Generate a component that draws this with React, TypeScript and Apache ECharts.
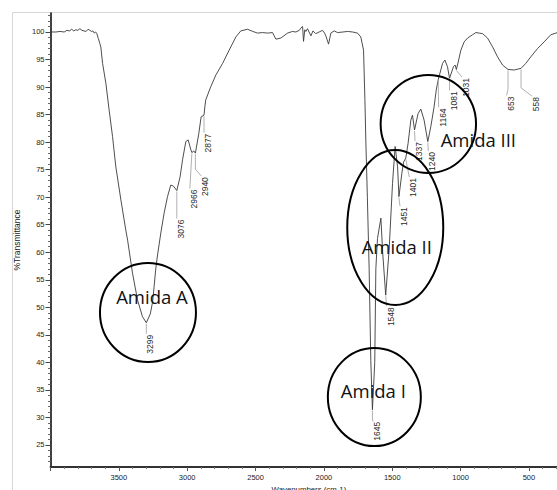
import React, { useEffect, useRef } from 'react';
import * as echarts from 'echarts';

// FTIR spectrum: wavenumber (cm-1) and % transmittance
const wavenumbers = [
  4000, 3960, 3930, 3900, 3880, 3860, 3845, 3830, 3815, 3800, 3785, 3770, 3755, 3740, 3725, 3712, 3700, 3690, 3680, 3670,
  3661, 3650, 3639, 3632, 3619, 3595, 3571, 3546, 3522, 3485, 3449, 3436, 3400, 3363, 3327, 3299, 3270, 3253, 3242, 3230,
  3217, 3193, 3169, 3144, 3120, 3100, 3076, 3052, 3034, 3010, 2993, 2973, 2966, 2952, 2940, 2915, 2898, 2877, 2871, 2864,
  2827, 2790, 2741, 2693, 2644, 2608, 2559, 2520, 2485, 2450, 2412, 2376, 2351, 2315, 2266, 2230, 2205, 2180, 2169, 2156,
  2149, 2140, 2132, 2120, 2095, 2080, 2060, 2035, 2010, 1995, 1986, 1966, 1949, 1925, 1900, 1860, 1827, 1790, 1754, 1730,
  1710, 1700, 1693, 1682, 1669, 1657, 1645, 1628, 1620, 1608, 1583, 1570, 1548, 1523, 1498, 1479, 1461, 1451, 1430, 1417,
  1401, 1384, 1364, 1352, 1337, 1311, 1291, 1267, 1240, 1218, 1194, 1178, 1164, 1132, 1115, 1096, 1081, 1052, 1040, 1031,
  1018, 998, 974, 949, 913, 888, 864, 839, 803, 766, 730, 693, 653, 608, 558, 523, 486, 437, 389, 340,
  303, 280, 250,
];
const transmittance = [
  100.0, 100.0, 100.1, 100.0, 100.3, 100.2, 100.5, 100.2, 100.4, 100.3, 100.6, 100.3, 100.2, 100.1, 100.5, 100.3, 100.1, 100.2, 99.8, 100.0,
  99.7, 98.8, 97.9, 97.3, 94.3, 90.7, 85.8, 81.0, 75.5, 69.5, 64.0, 62.2, 56.2, 51.3, 48.3, 47.2, 48.8, 51.0, 53.8, 57.0,
  59.5, 63.5, 67.1, 70.1, 72.2, 72.0, 71.2, 73.7, 76.8, 80.1, 80.4, 78.6, 78.1, 78.4, 78.0, 81.6, 84.6, 84.9, 86.4, 87.7,
  90.1, 92.2, 94.3, 96.7, 99.1, 100.2, 100.5, 100.1, 99.8, 99.9, 99.8, 99.9, 98.7, 98.9, 99.8, 100.1, 100.0, 100.3, 100.7, 101.0,
  98.3, 100.4, 100.1, 100.6, 99.3, 100.2, 99.7, 100.0, 100.3, 99.8, 99.3, 97.8, 99.8, 100.2, 99.9, 100.0, 100.1, 100.0, 99.8, 99.1,
  96.7, 87.7, 80.0, 70.0, 57.0, 40.4, 31.4, 40.0, 57.0, 62.5, 66.2, 60.0, 52.2, 60.4, 72.5, 79.2, 75.5, 70.1, 74.3, 76.4,
  77.1, 79.8, 84.0, 84.9, 82.2, 85.2, 86.0, 84.0, 80.1, 82.8, 86.4, 89.5, 91.3, 94.3, 94.9, 93.7, 91.6, 93.7, 94.0, 93.2,
  94.5, 96.7, 98.2, 98.9, 99.5, 99.9, 99.8, 99.7, 98.9, 97.3, 95.5, 94.0, 93.2, 93.1, 93.4, 94.3, 95.5, 97.0, 98.2, 99.5,
  99.8, 100.0, 100.1,
];

// Labelled peaks
const peakWavenumbers = [3299, 3076, 2966, 2940, 2877, 1645, 1548, 1451, 1401, 1337, 1240, 1164, 1081, 1031, 653, 558];
const peakTransmittance = [47.2, 71.2, 78.1, 78.0, 84.9, 31.4, 52.2, 70.1, 77.1, 82.2, 80.1, 91.3, 91.6, 93.2, 93.2, 93.4];
// leader line layout in px: [vertical drop, bend dx, bend dy]
const peakLabelLayout = [
  [10, 0, 0], [27, 0, 0], [0, -2, 35], [15, 6, 7], [16.5, 0, 0], [10, 1, 0], [0, 1, 10], [0, 1, 8.5],
  [0, 3.5, 18], [0, 0.5, 10], [0, 0.5, 8.5], [0, 0.5, 26.5], [0, 0, 11], [0, 5.5, 6.5], [19, -1.5, 6], [18.5, 11, 8.3],
];

// Band annotations
const annotationNames = ['Amida A', 'Amida I', 'Amida II', 'Amida III'];
const annotationWavenumbers = [3287, 1631, 1478, 1236];
const annotationTransmittance = [49.06, 33.7, 64.5, 83.3];
// [rx, ry, text dx, text dy] in px
const annotationLayout = [
  [48, 49.5, 4, -15.5],
  [46.5, 49, -1, -7],
  [48, 77.5, 1.5, 19],
  [47.7, 49, 50, 16],
];

// Y axis ticks
const yMajorTicks = [25, 30, 35, 40, 45, 50, 55, 60, 65, 70, 75, 80, 85, 90, 95, 100];
const yMinorTicks: number[] = [];
for (let v = 22; v <= 103; v++) if (v % 5 !== 0) yMinorTicks.push(v);

export default function App() {
  const ref = useRef<HTMLDivElement>(null);
  useEffect(() => {
    if (!ref.current) return;
    const chart = echarts.init(ref.current, null, { renderer: 'svg' });
    const spectrum = wavenumbers.map((w, i) => [w, transmittance[i]]);
    const peaks = peakWavenumbers.map((w, i) => [w, peakTransmittance[i], i]);
    const notes = annotationWavenumbers.map((w, i) => [w, annotationTransmittance[i], i]);
    const axisFont = 'Liberation Sans, Arial, sans-serif';
    chart.setOption({
      animation: false,
      color: ['#3a3a3a'],
      graphic: [
        {
          type: 'polyline',
          silent: true,
          shape: { points: [[12.5, 620], [12.5, 12.5], [640, 12.5]] },
          style: { stroke: '#d6d6d6', lineWidth: 1, fill: 'none' },
        },
      ],
      grid: { left: 50.5, top: 13, width: 546.8, height: 454 },
      xAxis: {
        type: 'value',
        min: 0,
        max: 4000,
        interval: 500,
        inverse: true,
        axisLine: { show: true, onZero: false, lineStyle: { color: '#333', width: 2 } },
        axisTick: { show: true, length: 4, lineStyle: { color: '#555', width: 1 } },
        minorTick: { show: true, splitNumber: 5, length: 2, lineStyle: { color: '#777', width: 1 } },
        splitLine: { show: false },
        minorSplitLine: { show: false },
        axisLabel: {
          showMaxLabel: false,
          showMinLabel: false,
          fontSize: 7.5,
          color: '#222',
          margin: 6,
          fontFamily: axisFont,
          formatter: (v: number) => String(v),
        },
        name: 'Wavenumbers (cm-1)',
        nameLocation: 'middle',
        nameGap: 18.5,
        nameTextStyle: { fontSize: 7.8, color: '#222', fontFamily: axisFont, padding: [0, 30, 0, 0] },
      },
      yAxis: [
        {
          type: 'value',
          min: 21,
          max: 103.45,
          position: 'left',
          axisLine: { show: true, onZero: false, lineStyle: { color: '#000', width: 1.5 } },
          axisTick: { show: true, length: 5, customValues: yMajorTicks, lineStyle: { color: '#444', width: 1 } },
          axisLabel: {
            customValues: yMajorTicks,
            fontSize: 7.5,
            color: '#222',
            margin: 6,
            fontFamily: axisFont,
            formatter: (v: number) => String(v),
          },
          splitLine: { show: false },
          name: '%Transmittance',
          nameLocation: 'middle',
          nameGap: 23,
          nameTextStyle: { fontSize: 8.5, color: '#222', fontFamily: axisFont },
        },
        {
          type: 'value',
          min: 21,
          max: 103.45,
          position: 'left',
          axisLine: { show: false, onZero: false },
          axisTick: { show: true, length: 2.5, customValues: yMinorTicks, lineStyle: { color: '#666', width: 1 } },
          axisLabel: { show: false },
          splitLine: { show: false },
        },
      ],
      series: [
        {
          type: 'line',
          data: spectrum,
          showSymbol: false,
          symbol: 'none',
          silent: true,
          lineStyle: { color: '#3a3a3a', width: 0.9 },
          z: 2,
        },
        {
          type: 'custom',
          data: peaks,
          silent: true,
          clip: false,
          z: 3,
          itemStyle: { color: '#333' },
          encode: { x: 0, y: 1 },
          renderItem: (_params: any, api: any) => {
            const i = api.value(2);
            const pt = api.coord([api.value(0), api.value(1)]);
            const [d1, bx, by] = peakLabelLayout[i];
            const p1 = [pt[0], pt[1] + 1 + d1];
            const p2 = [p1[0] + bx, p1[1] + by];
            return {
              type: 'group',
              children: [
                {
                  type: 'polyline',
                  shape: { points: [[pt[0], pt[1] + 1], p1, p2] },
                  style: { stroke: '#9c9c9c', lineWidth: 0.8, fill: 'none' },
                },
                {
                  type: 'text',
                  x: p2[0] + 4,
                  y: p2[1] + 1,
                  rotation: Math.PI / 2,
                  style: {
                    text: String(peakWavenumbers[i]),
                    fontSize: 8.5,
                    fontFamily: axisFont,
                    fill: '#2a2a2a',
                    align: 'right',
                    verticalAlign: 'middle',
                  },
                },
              ],
            };
          },
        },
        {
          type: 'custom',
          data: notes,
          silent: true,
          clip: false,
          z: 4,
          itemStyle: { color: '#000' },
          encode: { x: 0, y: 1 },
          renderItem: (_params: any, api: any) => {
            const i = api.value(2);
            const c = api.coord([api.value(0), api.value(1)]);
            const [rx, ry, dx, dy] = annotationLayout[i];
            return {
              type: 'group',
              children: [
                {
                  type: 'ellipse',
                  shape: { cx: c[0], cy: c[1], rx, ry },
                  style: { stroke: '#000', lineWidth: 2, fill: 'none' },
                },
                {
                  type: 'text',
                  x: c[0] + dx,
                  y: c[1] + dy,
                  style: {
                    text: annotationNames[i],
                    fontSize: 18.5,
                    fontFamily: 'Open Sans, sans-serif',
                    fill: '#111',
                    align: 'center',
                    verticalAlign: 'middle',
                  },
                },
              ],
            };
          },
        },
      ],
    });
    return () => chart.dispose();
  }, []);
  return (
    <div style={{ position: 'fixed', left: 0, top: 0, width: 557, height: 490, overflow: 'hidden', background: '#fff' }}>
      <div ref={ref} style={{ width: 620, height: 500 }} />
    </div>
  );
}
